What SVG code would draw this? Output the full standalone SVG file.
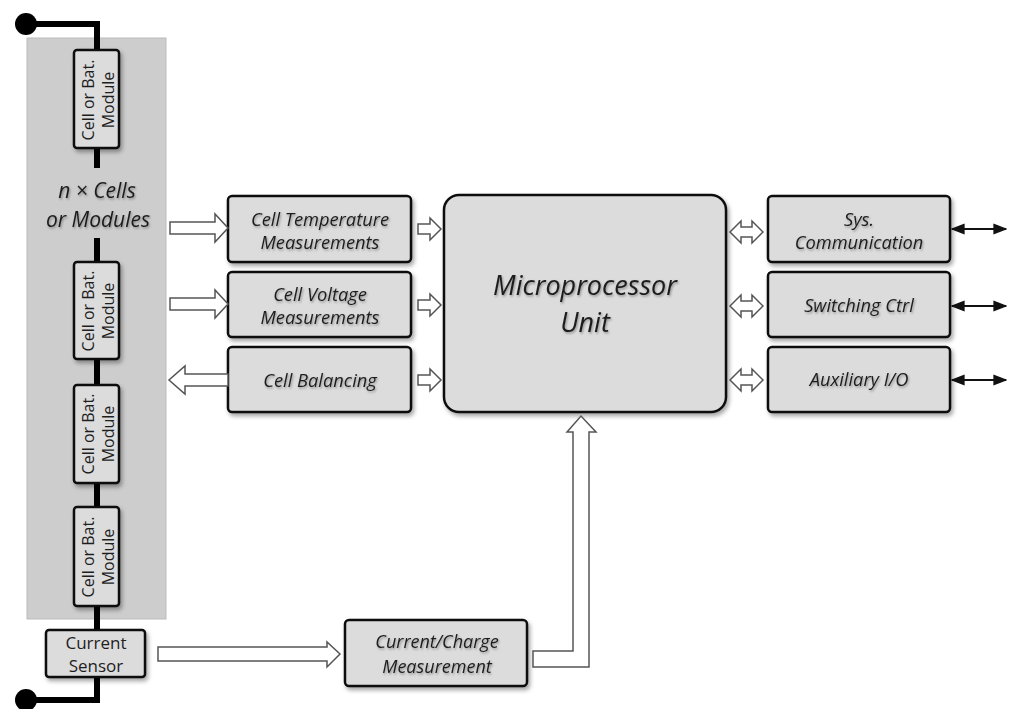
<svg xmlns="http://www.w3.org/2000/svg" width="1014" height="709" viewBox="0 0 1014 709">
<defs>
<filter id="sh" x="-10%" y="-10%" width="130%" height="140%">
<feDropShadow dx="2" dy="3" stdDeviation="2" flood-color="#000" flood-opacity="0.35"/>
</filter>
<filter id="tsh" x="-10%" y="-20%" width="130%" height="150%">
<feDropShadow dx="1" dy="1.5" stdDeviation="1" flood-color="#000" flood-opacity="0.35"/>
</filter>
<marker id="ah" viewBox="0 0 10 10" refX="9" refY="5" markerWidth="7" markerHeight="7" orient="auto-start-reverse">
<path d="M0,1 L10,5 L0,9 Z" fill="#111"/>
</marker>
</defs>
<style>
.box{fill:#dcdcdc;stroke:#111;stroke-width:2.5;filter:url(#sh)}
.it{font-family:"Open Sans","Liberation Sans",sans-serif;font-style:italic;fill:#1e1e1e;text-anchor:middle;filter:url(#tsh)}
.rg{font-family:"Open Sans","Liberation Sans",sans-serif;fill:#1e1e1e;text-anchor:middle}
.m{font-size:16px}
.wire{stroke:#000;stroke-width:6;fill:none}
.hol{fill:#fff;stroke:#555;stroke-width:1.5}
.thin{stroke:#111;stroke-width:2;fill:none;marker-start:url(#ah);marker-end:url(#ah)}
</style>
<rect width="1014" height="709" fill="#fff"/>

<g id="panel">
<rect x="27" y="38" width="139" height="581" fill="#cdcdcd" stroke="#bbb" stroke-width="1"/>
</g>

<g id="wires">
<path class="wire" d="M26,24 H97 V50"/>
<circle cx="26" cy="24" r="11" fill="#000"/>
<path class="wire" d="M97,148 V168"/>
<path class="wire" d="M97,238 V262"/>
<path class="wire" d="M97,359 V385"/>
<path class="wire" d="M97,483 V507"/>
<path class="wire" d="M97,606 V630"/>
<path class="wire" d="M97,677 V700 H26"/>
<circle cx="26" cy="700" r="11" fill="#000"/>
</g>

<g id="label-n">
<text class="it" x="97" y="198" font-size="21">n × Cells</text>
<text class="it" x="98" y="227" font-size="21">or Modules</text>
</g>

<g id="module1">
<rect class="box" x="74" y="50" width="45" height="98" rx="3"/>
<text class="rg m" transform="translate(94,100) rotate(-90)">Cell or Bat.</text>
<text class="rg m" transform="translate(114,100) rotate(-90)">Module</text>
</g>
<g id="module2">
<rect class="box" x="74" y="262" width="45" height="97" rx="3"/>
<text class="rg m" transform="translate(94,311) rotate(-90)">Cell or Bat.</text>
<text class="rg m" transform="translate(114,311) rotate(-90)">Module</text>
</g>
<g id="module3">
<rect class="box" x="74" y="385" width="45" height="98" rx="3"/>
<text class="rg m" transform="translate(94,434) rotate(-90)">Cell or Bat.</text>
<text class="rg m" transform="translate(114,434) rotate(-90)">Module</text>
</g>
<g id="module4">
<rect class="box" x="74" y="507" width="45" height="99" rx="3"/>
<text class="rg m" transform="translate(94,557) rotate(-90)">Cell or Bat.</text>
<text class="rg m" transform="translate(114,557) rotate(-90)">Module</text>
</g>

<g id="current-sensor">
<rect class="box" x="46" y="630" width="99" height="47" rx="3"/>
<text class="rg" x="96" y="649" font-size="17">Current</text>
<text class="rg" x="96" y="672" font-size="17">Sensor</text>
</g>

<g id="cell-temp">
<rect class="box" x="228" y="196" width="183" height="66" rx="4"/>
<text class="it" x="320" y="226" font-size="18.3">Cell Temperature</text>
<text class="it" x="320" y="249" font-size="18.3">Measurements</text>
</g>
<g id="cell-voltage">
<rect class="box" x="228" y="272" width="183" height="65" rx="4"/>
<text class="it" x="320" y="301" font-size="18.3">Cell Voltage</text>
<text class="it" x="320" y="324" font-size="18.3">Measurements</text>
</g>
<g id="cell-balancing">
<rect class="box" x="228" y="347" width="183" height="65" rx="4"/>
<text class="it" x="320" y="387" font-size="18.3">Cell Balancing</text>
</g>

<g id="mpu">
<rect class="box" x="444" y="195" width="282" height="217" rx="15"/>
<text class="it" x="585" y="295" font-size="27">Microprocessor</text>
<text class="it" x="585" y="332" font-size="27">Unit</text>
</g>

<g id="sys-comm">
<rect class="box" x="768" y="196" width="182" height="66" rx="4"/>
<text class="it" x="859" y="226" font-size="18.3">Sys.</text>
<text class="it" x="859" y="249" font-size="18.3">Communication</text>
</g>
<g id="switching">
<rect class="box" x="768" y="272" width="182" height="65" rx="4"/>
<text class="it" x="859" y="312" font-size="18.3">Switching Ctrl</text>
</g>
<g id="aux">
<rect class="box" x="768" y="347" width="182" height="65" rx="4"/>
<text class="it" x="859" y="386" font-size="18.3">Auxiliary I/O</text>
</g>

<g id="current-charge">
<rect class="box" x="345" y="620" width="182" height="66" rx="4"/>
<text class="it" x="437" y="648" font-size="18">Current/Charge</text>
<text class="it" x="437" y="673" font-size="18">Measurement</text>
</g>

<g id="connectors">
<path class="hol" d="M170,222 H215 V214 L228,228 L215,242 V234 H170 Z"/>
<path class="hol" d="M170,298 H215 V290 L228,304 L215,318 V310 H170 Z"/>
<path class="hol" d="M228,374 H185 V366 L169,380 L185,394 V386 H228 Z"/>
<path class="hol" d="M418,224 H430 V218 L441,229 L430,240 V234 H418 Z"/>
<path class="hol" d="M418,300 H430 V294 L441,305 L430,316 V310 H418 Z"/>
<path class="hol" d="M418,375 H430 V369 L441,380 L430,391 V385 H418 Z"/>
<path class="hol" d="M730,232 L741,221 V227 H752 V221 L763,232 L752,243 V237 H741 V243 Z"/>
<path class="hol" d="M730,306 L741,295 V301 H752 V295 L763,306 L752,317 V311 H741 V317 Z"/>
<path class="hol" d="M730,380 L741,369 V375 H752 V369 L763,380 L752,391 V385 H741 V391 Z"/>
<line class="thin" x1="952" y1="229" x2="1006" y2="229"/>
<line class="thin" x1="952" y1="306" x2="1006" y2="306"/>
<line class="thin" x1="952" y1="380" x2="1006" y2="380"/>
<path class="hol" d="M158,647 H327 V642 L340,654 L327,667 V661 H158 Z"/>
<path class="hol" d="M533,651 H573 V432 H567 L581,416 L596,432 H589 V667 H533 Z"/>
</g>
</svg>
